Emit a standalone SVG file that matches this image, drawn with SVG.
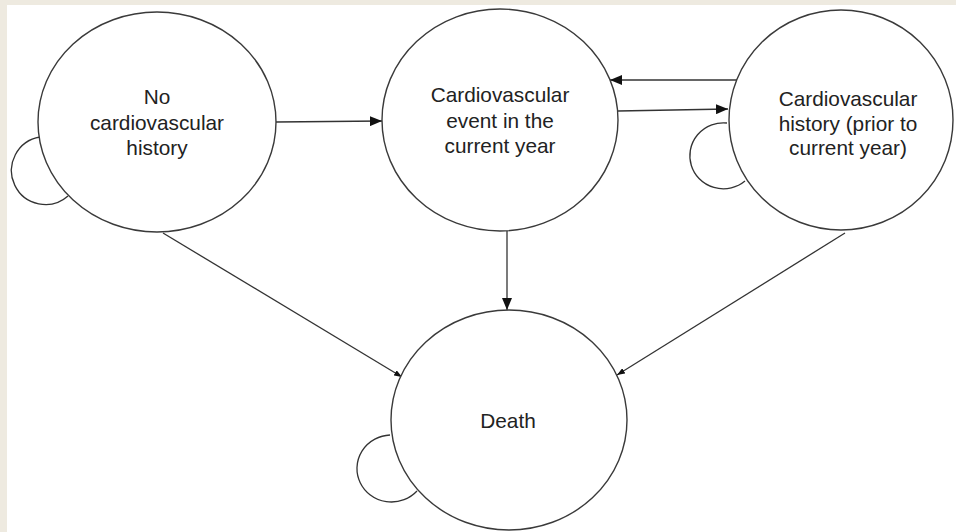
<svg xmlns="http://www.w3.org/2000/svg" width="956" height="532" viewBox="0 0 956 532">
<style>
.node{fill:#fff;stroke:#3a3a3a;stroke-width:1.4}
.lbl{font-family:"Liberation Sans",Arial,sans-serif;font-size:20.8px;fill:#222;text-anchor:middle}
.edge{fill:none;stroke:#333;stroke-width:1.3}
</style>
<defs>
<marker id="big" viewBox="0 0 12 10" refX="12" refY="5" markerWidth="12" markerHeight="10" markerUnits="userSpaceOnUse" orient="auto"><path d="M0 0 L12 5 L0 10 Z" fill="#111"/></marker>
<marker id="small" viewBox="0 0 8 6" refX="8" refY="3" markerWidth="8" markerHeight="6" markerUnits="userSpaceOnUse" orient="auto"><path d="M0 0 L8 3 L0 6 Z" fill="#111"/></marker>
</defs>
<rect x="0" y="0" width="956" height="532" fill="#eeeae0"/>
<rect x="7" y="5" width="949" height="527" fill="#fff"/>
<g id="connectors">
<path class="edge" d="M40 137 A34 34 0 1 0 68 196"/>
<path class="edge" d="M727 123 A33.5 33 0 1 0 745 181"/>
<path class="edge" d="M390 435 A34.5 33.5 0 1 0 417 491"/>
<line class="edge" x1="276" y1="122" x2="382" y2="121" marker-end="url(#big)"/>
<line class="edge" x1="618" y1="111" x2="728" y2="109" marker-end="url(#big)"/>
<line class="edge" x1="737" y1="80" x2="610" y2="80" marker-end="url(#big)"/>
<line class="edge" x1="507" y1="231" x2="507" y2="310" marker-end="url(#big)"/>
<line class="edge" x1="163" y1="233" x2="402" y2="377" marker-end="url(#small)"/>
<line class="edge" x1="845" y1="233" x2="617" y2="375" marker-end="url(#small)"/>
</g>
<g id="n_none">
<ellipse class="node" cx="157" cy="122" rx="119" ry="110"/>
<text class="lbl" x="157" y="104">No</text>
<text class="lbl" x="157" y="130">cardiovascular</text>
<text class="lbl" x="157" y="155">history</text>
</g>
<g id="n_event">
<ellipse class="node" cx="500" cy="120" rx="118" ry="111"/>
<text class="lbl" x="500" y="102">Cardiovascular</text>
<text class="lbl" x="500" y="128">event in the</text>
<text class="lbl" x="500" y="153">current year</text>
</g>
<g id="n_history">
<ellipse class="node" cx="841" cy="120" rx="112" ry="110"/>
<text class="lbl" x="848" y="106">Cardiovascular</text>
<text class="lbl" x="848" y="131">history (prior to</text>
<text class="lbl" x="848" y="155">current year)</text>
</g>
<g id="n_death">
<ellipse class="node" cx="509" cy="420" rx="118" ry="110"/>
<text class="lbl" x="508" y="428">Death</text>
</g>
</svg>
